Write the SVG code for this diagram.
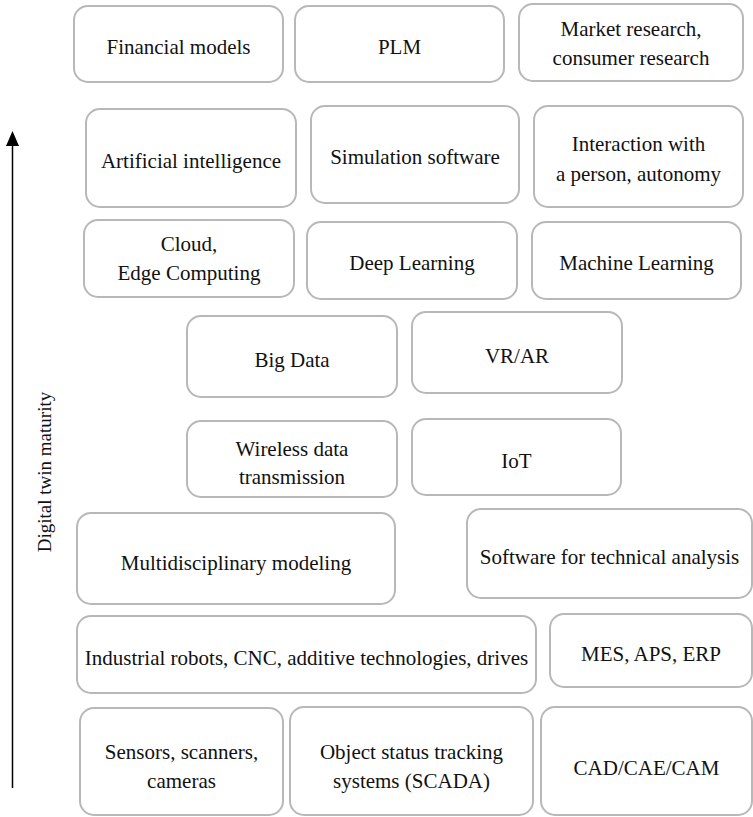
<svg xmlns="http://www.w3.org/2000/svg" width="753" height="817" viewBox="0 0 753 817">
  <style>
    .box { fill: #ffffff; stroke: #b8b8b8; stroke-width: 2; }
    .lbl { font-family: "Liberation Serif", "Times New Roman", serif; font-size: 21px; fill: #111111; text-anchor: middle; dominant-baseline: central; }
    .axis { stroke: #000000; stroke-width: 1.5; fill: none; }
  </style>
  <rect width="753" height="817" fill="#ffffff"/>

  <!-- maturity axis -->
  <g id="connectors">
    <line class="axis" x1="12.5" y1="788" x2="12.5" y2="146"/>
    <path d="M6,146 L12.5,131 L19,146 Z" fill="#000000"/>
  </g>
  <text class="lbl" style="font-size:19px" transform="translate(44,472) rotate(-90)">Digital twin maturity</text>

  <!-- row 1 -->
  <g id="financial-models">
    <rect class="box" x="74" y="6" width="209" height="76" rx="14"/>
    <text class="lbl" x="178.5" y="47">Financial models</text>
  </g>
  <g id="plm">
    <rect class="box" x="295" y="6" width="209" height="76" rx="14"/>
    <text class="lbl" x="399.5" y="47">PLM</text>
  </g>
  <g id="market-research">
    <rect class="box" x="519" y="4" width="224" height="77" rx="14"/>
    <text class="lbl" x="631" y="29">Market research,</text>
    <text class="lbl" x="631" y="58">consumer research</text>
  </g>

  <!-- row 2 -->
  <g id="artificial-intelligence">
    <rect class="box" x="86" y="109" width="210" height="98" rx="14"/>
    <text class="lbl" x="191" y="161">Artificial intelligence</text>
  </g>
  <g id="simulation-software">
    <rect class="box" x="311" y="106" width="208" height="97" rx="14"/>
    <text class="lbl" x="415" y="157">Simulation software</text>
  </g>
  <g id="interaction">
    <rect class="box" x="534" y="106" width="209" height="101" rx="14"/>
    <text class="lbl" x="638.5" y="144">Interaction with</text>
    <text class="lbl" x="638.5" y="174">a person, autonomy</text>
  </g>

  <!-- row 3 -->
  <g id="cloud-edge">
    <rect class="box" x="84" y="220" width="210" height="77" rx="14"/>
    <text class="lbl" x="189" y="244">Cloud,</text>
    <text class="lbl" x="189" y="273">Edge Computing</text>
  </g>
  <g id="deep-learning">
    <rect class="box" x="307" y="222" width="210" height="77" rx="14"/>
    <text class="lbl" x="412" y="263">Deep Learning</text>
  </g>
  <g id="machine-learning">
    <rect class="box" x="532" y="222" width="209" height="77" rx="14"/>
    <text class="lbl" x="636.5" y="263">Machine Learning</text>
  </g>

  <!-- row 4 -->
  <g id="big-data">
    <rect class="box" x="187" y="316" width="210" height="81" rx="14"/>
    <text class="lbl" x="292" y="360">Big Data</text>
  </g>
  <g id="vr-ar">
    <rect class="box" x="412" y="312" width="210" height="81" rx="14"/>
    <text class="lbl" x="517" y="356">VR/AR</text>
  </g>

  <!-- row 5 -->
  <g id="wireless">
    <rect class="box" x="187" y="421" width="210" height="76" rx="14"/>
    <text class="lbl" x="292" y="449">Wireless data</text>
    <text class="lbl" x="292" y="477">transmission</text>
  </g>
  <g id="iot">
    <rect class="box" x="412" y="419" width="209" height="76" rx="14"/>
    <text class="lbl" x="516.5" y="461">IoT</text>
  </g>

  <!-- row 6 -->
  <g id="multidisciplinary-modeling">
    <rect class="box" x="77" y="513" width="318" height="91" rx="14"/>
    <text class="lbl" x="236" y="563">Multidisciplinary modeling</text>
  </g>
  <g id="technical-analysis">
    <rect class="box" x="467" y="509" width="285" height="89" rx="14"/>
    <text class="lbl" x="609.5" y="557">Software for technical analysis</text>
  </g>

  <!-- row 7 -->
  <g id="industrial-robots">
    <rect class="box" x="77" y="616" width="459" height="77" rx="14"/>
    <text class="lbl" x="306.5" y="658">Industrial robots, CNC, additive technologies, drives</text>
  </g>
  <g id="mes-aps-erp">
    <rect class="box" x="550" y="614" width="202" height="73" rx="14"/>
    <text class="lbl" x="651" y="654">MES, APS, ERP</text>
  </g>

  <!-- row 8 -->
  <g id="sensors">
    <rect class="box" x="80" y="708" width="203" height="107" rx="14"/>
    <text class="lbl" x="181.5" y="752">Sensors, scanners,</text>
    <text class="lbl" x="181.5" y="781">cameras</text>
  </g>
  <g id="scada">
    <rect class="box" x="290" y="707" width="243" height="108" rx="14"/>
    <text class="lbl" x="411.5" y="752">Object status tracking</text>
    <text class="lbl" x="411.5" y="781">systems (SCADA)</text>
  </g>
  <g id="cad-cae-cam">
    <rect class="box" x="541" y="707" width="211" height="108" rx="14"/>
    <text class="lbl" x="646.5" y="768">CAD/CAE/CAM</text>
  </g>
</svg>
